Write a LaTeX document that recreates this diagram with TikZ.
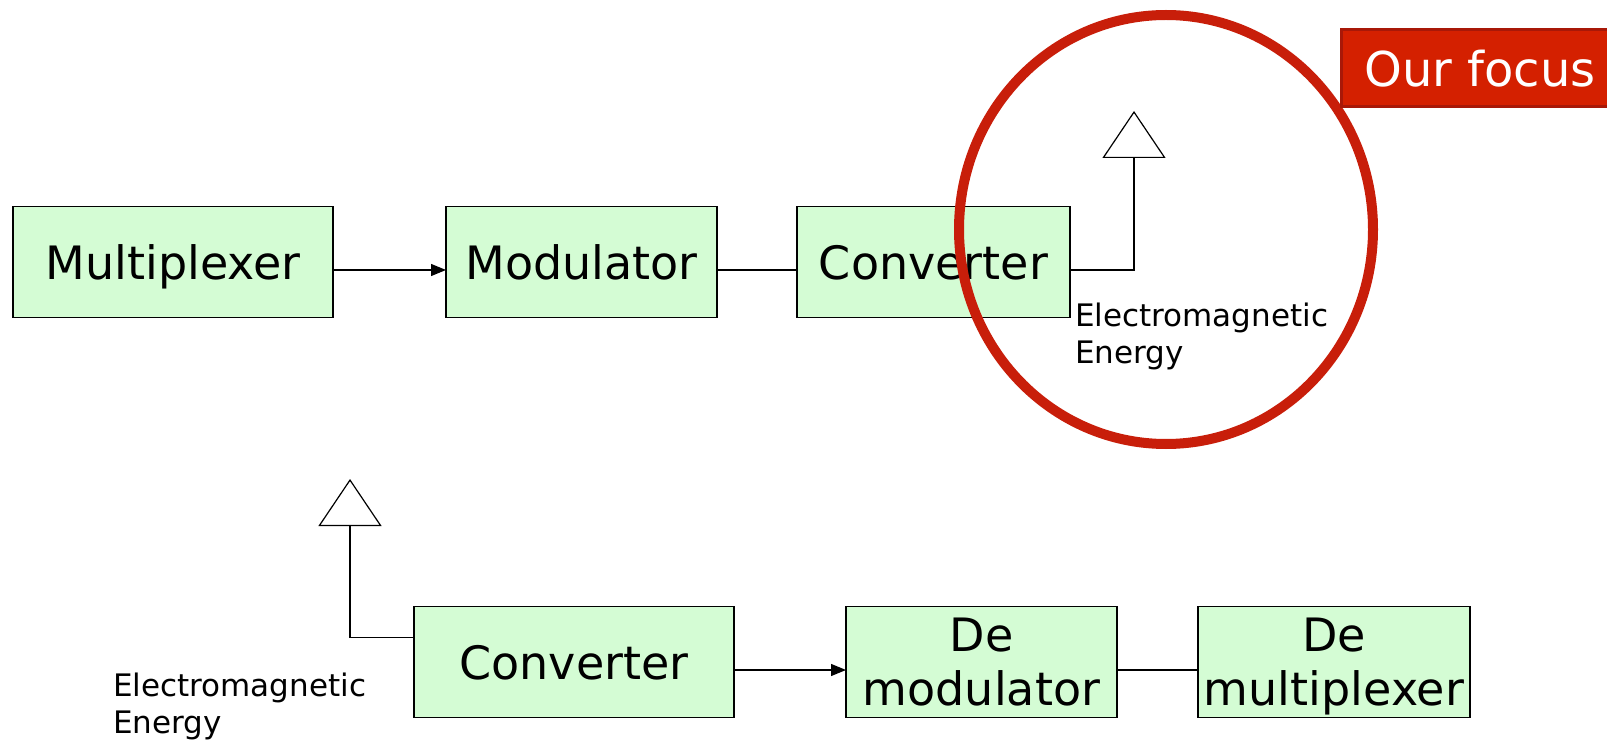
\documentclass[tikz,border=0pt]{standalone}
\usepackage{fontspec}
\setmainfont{DejaVu Sans}
\usepackage{tikz}
\usetikzlibrary{arrows.meta,positioning,shapes.geometric}
\definecolor{BlockGreen}{HTML}{D4FCD4}
\definecolor{RingRed}{HTML}{C81E0A}
\definecolor{FocusRed}{HTML}{D42000}
\definecolor{FocusEdge}{HTML}{A81808}

\begin{document}
\begin{tikzpicture}[
  x=1pt, y=1pt,
  block/.style={
    draw=black,
    line width=1.2pt,
    fill=BlockGreen,
    minimum height=111pt,
    inner sep=0pt,
    outer sep=0pt,
    text depth=0pt,
    align=center,
    font=\fontsize{46}{54}\selectfont
  },
  caption/.style={
    align=left,
    inner sep=0pt,
    anchor=base west,
    font=\fontsize{31}{37}\selectfont
  },
  flow/.style={
    -{Triangle[length=15pt,width=12pt]},
    line width=1.2pt
  },
  link/.style={
    line width=1.2pt
  },
  antenna/.style={
    -{Triangle[open,length=47pt,width=63pt]},
    line width=1.2pt
  }
]
\useasboundingbox (0,0) rectangle (1607,740);

% Sending chain
\node[block, minimum width=320pt] (mux) at (173,478) {Multiplexer};

\node[block, minimum width=271pt,
  right=113pt of mux]
  (mod) {Modulator};

\node[block, minimum width=273pt,
  right=80pt of mod]
  (convA) {Converter};

\coordinate (antA) at (1134,629);

\node[caption] (emA) at (1075,376) {Electromagnetic\\Energy};

% Receiving chain
\node[block, minimum width=320pt] (convB) at (574,78) {Converter};

\node[block, minimum width=271pt,
  right=112pt of convB]
  (demod) {De\\modulator};

\node[block, minimum width=272pt,
  right=81pt of demod]
  (demux) {De\\multiplexer};

\coordinate (antB) at (350,261);

\node[caption] (emB) at (113,7) {Electromagnetic\\Energy};

% Connections
\draw[flow] ([yshift=-8pt]mux.east) -- ([yshift=-8pt]mod.west);
\draw[link] ([yshift=-8pt]mod.east) -- ([yshift=-8pt]convA.west);
\draw[antenna] ([yshift=-8pt]convA.east) -| (antA);
\draw[flow] ([yshift=-8pt]convB.east) -- ([yshift=-8pt]demod.west);
\draw[link] ([yshift=-8pt]demod.east) -- ([yshift=-8pt]demux.west);
\draw[antenna] ([yshift=24.5pt]convB.west) -| (antB);

% Focus
\node[draw=RingRed, line width=10pt, ellipse,
  minimum width=414pt, minimum height=429pt, inner sep=0pt]
  (ring) at (1166,510.5) {};

\node[draw=FocusEdge, fill=FocusRed, line width=3pt,
  minimum width=278pt, minimum height=77pt, inner sep=0pt,
  text=white, font=\fontsize{48}{54}\selectfont]
  (focus) at (1480,671.5) {Our focus};

\end{tikzpicture}
\end{document}
